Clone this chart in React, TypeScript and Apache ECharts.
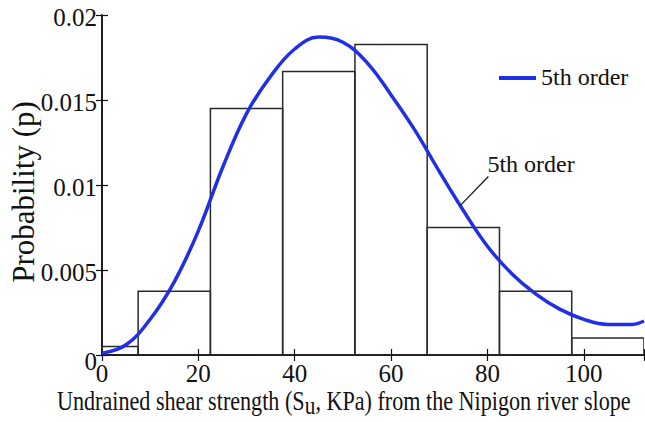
import React, { useEffect, useRef } from "react";
import * as echarts from "echarts";

// Histogram bins (edges) and probabilities
const binEdges = [0, 7.5, 22.5, 37.5, 52.5, 67.5, 82.5, 97.5, 112.5];
const binProb = [0.0005, 0.00375, 0.0145, 0.01667, 0.01827, 0.0075, 0.00375, 0.001];

// 5th order fitted curve
const curveX = [0, 5, 10, 15, 20, 25, 30, 35, 40, 45, 50, 55, 60, 65, 70, 75, 80, 85, 90, 95, 100, 105, 110, 112.5];
const curveY = [0.0001, 0.0006, 0.0021, 0.0043, 0.0073, 0.011, 0.0142, 0.0164, 0.018, 0.0187, 0.0184, 0.0172, 0.0153, 0.0132, 0.0108, 0.0085, 0.0064, 0.0048, 0.0036, 0.0027, 0.0021, 0.0018, 0.0018, 0.002];

// Leader line of annotation (data coords)
const leaderX = [74.4, 80.2];
const leaderY = [0.0088, 0.0105];

// Tick values and labels
const xTickValues = [0, 20, 40, 60, 80, 100];
const xTickLabels = ["0", "20", "40", "60", "80", "100"];
const yTickValues = [0, 0.005, 0.01, 0.015, 0.02];
const yTickLabels = ["0", "0.005", "0.01", "0.015", "0.02"];

const xTicks = { min: 0, max: 112.5, interval: 20 };
const yTicks = { min: 0, max: 0.02, interval: 0.005 };

const SERIES_NAME = "5th order";
const X_TITLE_PARTS = ["Undrained shear strength (S", "u", ", KPa) from the Nipigon river slope"];
const Y_TITLE = "Probability (p)";

const FONT = "Liberation Serif";
const INK = "#111";
const BLUE = "#1f2fe8";

export default function App() {
  const ref = useRef<HTMLDivElement>(null);
  useEffect(() => {
    const el = ref.current!;
    const chart = echarts.init(el, null, { renderer: "svg" });
    const barData = binProb.map((p, i) => [binEdges[i], binEdges[i + 1], p]);
    const axisLine = { show: true, lineStyle: { color: INK, width: 1.5 } };
    const tick = { show: true, inside: true, length: 6, lineStyle: { color: INK, width: 1.2 } };
    chart.setOption({
      animation: false,
      backgroundColor: "#fff",
      textStyle: { fontFamily: FONT },
      grid: { left: 102, top: 15, right: 1, bottom: 67, containLabel: false, outerBoundsMode: "none" },
      xAxis: [
        {
          type: "value",
          position: "bottom",
          min: xTicks.min,
          max: xTicks.max,
          interval: xTicks.interval,
          axisLine,
          axisTick: tick,
          splitLine: { show: false },
          axisLabel: { show: false },
        },
        {
          type: "value",
          position: "top",
          min: xTicks.min,
          max: xTicks.max,
          interval: xTicks.interval,
          axisLine,
          axisTick: tick,
          axisLabel: { show: false },
          splitLine: { show: false },
        },
      ],
      yAxis: [
        {
          type: "value",
          position: "left",
          min: yTicks.min,
          max: yTicks.max,
          interval: yTicks.interval,
          axisLine,
          axisTick: tick,
          splitLine: { show: false },
          axisLabel: { show: false },
        },
        {
          type: "value",
          position: "right",
          min: yTicks.min,
          max: yTicks.max,
          interval: yTicks.interval,
          axisLine,
          axisTick: tick,
          axisLabel: { show: false },
          splitLine: { show: false },
        },
      ],
      series: [
        {
          name: "hist",
          type: "custom",
          xAxisIndex: 0,
          yAxisIndex: 0,
          clip: true,
          encode: { x: [0, 1], y: 2 },
          data: barData,
          renderItem: (params: any, api: any) => {
            const p0 = api.coord([api.value(0), api.value(2)]);
            const p1 = api.coord([api.value(1), 0]);
            return {
              type: "rect",
              shape: { x: p0[0], y: p0[1], width: p1[0] - p0[0], height: p1[1] - p0[1] },
              style: { fill: "rgba(255,255,255,0)", stroke: "#2a2a2a", lineWidth: 1.5 },
            };
          },
          z: 2,
        },
        {
          name: SERIES_NAME,
          type: "line",
          xAxisIndex: 0,
          yAxisIndex: 0,
          smooth: 0.4,
          showSymbol: false,
          symbol: "none",
          data: curveX.map((x, i) => [x, curveY[i]]),
          lineStyle: { color: BLUE, width: 3.5 },
          itemStyle: { color: BLUE },
          z: 3,
        },
        {
          name: "leader",
          type: "line",
          xAxisIndex: 0,
          yAxisIndex: 0,
          symbol: "none",
          data: leaderX.map((x, i) => [x, leaderY[i]]),
          lineStyle: { color: INK, width: 1.2 },
          z: 4,
        },
      ],
    });

    const toPx = (x: number, y: number) => chart.convertToPixel({ gridIndex: 0 }, [x, y]) as number[];
    const txt = (text: string, x: number, y: number, size: number, align: string, vAlign: string, extra: any = {}) => ({
      type: "text",
      x,
      y,
      z: 100,
      ...extra,
      style: { text, font: `${size}px ${FONT}`, fill: INK, align, verticalAlign: vAlign },
    });
    const graphics: any[] = [];
    const base = toPx(0, 0);
    xTickValues.forEach((v, i) => {
      const p = toPx(v, 0);
      graphics.push(txt(xTickLabels[i], p[0], base[1] + 6, 25, "center", "top"));
    });
    yTickValues.forEach((v, i) => {
      const p = toPx(0, v);
      graphics.push(txt(yTickLabels[i], base[0] - 5, p[1] + (v === 0 ? 6 : 2), 25, "right", "middle"));
    });
    // y title
    graphics.push(txt(Y_TITLE, 23, 192, 31, "center", "middle", { rotation: Math.PI / 2 }));
    // x title with subscript
    graphics.push({
      type: "text",
      x: 57,
      y: 401,
      scaleX: 0.82,
      z: 100,
      style: {
        text: `{n|${X_TITLE_PARTS[0]}}{s|${X_TITLE_PARTS[1]}}{n|${X_TITLE_PARTS[2]}}`,
        align: "left",
        verticalAlign: "middle",
        rich: {
          n: { fontFamily: FONT, fontSize: 27, fill: INK, color: INK },
          s: { fontFamily: FONT, fontSize: 26, fill: INK, color: INK, padding: [9, 0, 0, 0] },
        },
      },
    });
    // legend
    graphics.push({
      type: "line",
      z: 100,
      shape: { x1: 499, y1: 78, x2: 536, y2: 78 },
      style: { stroke: BLUE, lineWidth: 4 },
    });
    graphics.push(txt(SERIES_NAME, 541, 77, 24, "left", "middle"));
    // annotation at leader end
    const le = toPx(leaderX[leaderX.length - 1], leaderY[leaderY.length - 1]);
    graphics.push(txt(SERIES_NAME, le[0] - 1, le[1] - 13, 24, "left", "middle"));

    chart.setOption({ graphic: graphics });
    return () => chart.dispose();
  }, []);
  return (
    <div
      ref={ref}
      style={{ position: "fixed", left: 0, top: 0, width: 645, height: 422, background: "#fff" }}
    />
  );
}
